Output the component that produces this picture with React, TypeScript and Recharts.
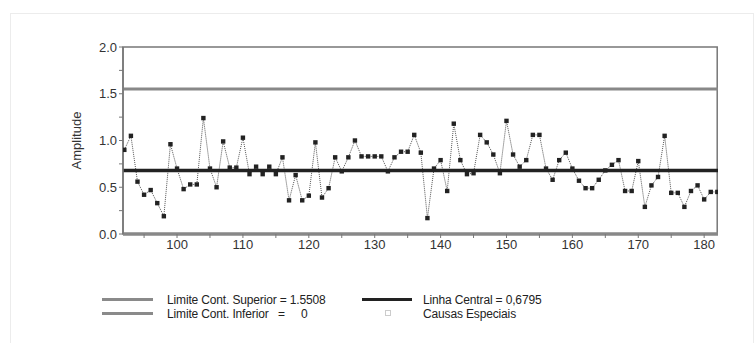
import React from 'react';
import { LineChart, Line, XAxis, YAxis, ReferenceLine, ReferenceArea } from 'recharts';

const samples: number[] = [];
for (let s = 92; s <= 182; s++) samples.push(s);

const amplitude: number[] = [
  0.90, 1.05, 0.56, 0.42, 0.47, 0.33, 0.19, 0.96, 0.70, 0.48, // 92-101
  0.53, 0.53, 1.24, 0.70, 0.50, 0.99, 0.71, 0.71, 1.03, 0.64, // 102-111
  0.72, 0.64, 0.72, 0.64, 0.82, 0.36, 0.63, 0.36, 0.41, 0.98, // 112-121
  0.39, 0.49, 0.82, 0.67, 0.82, 1.00, 0.83, 0.83, 0.83, 0.83, // 122-131
  0.67, 0.82, 0.88, 0.88, 1.06, 0.87, 0.17, 0.70, 0.79, 0.46, // 132-141
  1.18, 0.79, 0.64, 0.65, 1.06, 0.98, 0.85, 0.65, 1.21, 0.85, // 142-151
  0.72, 0.79, 1.06, 1.06, 0.70, 0.58, 0.79, 0.87, 0.70, 0.57, // 152-161
  0.49, 0.49, 0.58, 0.68, 0.74, 0.79, 0.46, 0.46, 0.78, 0.29, // 162-171
  0.52, 0.61, 1.05, 0.44, 0.44, 0.29, 0.46, 0.52, 0.37, 0.45, // 172-181
  0.45, // 182
];

const xTicks = [95, 100, 105, 110, 115, 120, 125, 130, 135, 140, 145, 150, 155, 160, 165, 170, 175, 180];
const yTicks = [0, 0.25, 0.5, 0.75, 1.0, 1.25, 1.5, 1.75, 2.0];
const xDomain: [number, number] = [91.8, 182.1];

const UCL = 1.5508;
const CL = 0.6795;
const LCL = 0;

const legendRows = [
  { label: 'Limite Cont. Superior = 1.5508', kind: 'ucl' },
  { label: 'Linha Central = 0,6795', kind: 'cl' },
  { label: 'Limite Cont. Inferior   =     0', kind: 'lcl' },
  { label: 'Causas Especiais', kind: 'special' },
];

const data = samples.map((s, i) => ({ x: s, y: amplitude[i] }));

const FONT = '"Liberation Sans", Arial, sans-serif';

const SquareDot = (props: any) => {
  const { cx, cy, index } = props;
  if (cx == null || cy == null) return <g key={`d-${index}`} />;
  return <rect key={`d-${index}`} x={cx - 2.2} y={cy - 2.2} width={4.4} height={4.4} fill="#222" />;
};

export default function App() {
  const legendStyle: React.CSSProperties = {
    position: 'absolute',
    fontFamily: FONT,
    fontSize: 12,
    color: '#222',
    whiteSpace: 'pre',
    lineHeight: '14px',
    letterSpacing: -0.15,
  };
  return (
    <div style={{ position: 'absolute', left: 0, top: 0, width: 756, height: 343, background: '#fff', overflow: 'hidden' }}>
      <div style={{ position: 'absolute', left: 10, top: 13, width: 742, height: 340, border: '1px solid #ececec' }} />
      <div style={{ position: 'absolute', left: 0, top: 0 }}>
        <LineChart width={756} height={343} data={data} margin={{ top: 47, right: 38, left: 0, bottom: 79 }}>
          <ReferenceArea
            x1={xDomain[0]}
            x2={xDomain[1] - 0.12}
            y1={0}
            y2={2}
            fill="none"
            fillOpacity={0}
            stroke="#777"
            strokeWidth={1.5}
            ifOverflow="visible"
          />
          <XAxis
            dataKey="x"
            type="number"
            domain={xDomain}
            allowDataOverflow
            ticks={xTicks}
            tickFormatter={(v: number) => (v % 10 === 0 ? String(v) : '')}
            tick={{ fontSize: 13, fill: '#333', fontFamily: FONT }}
            tickSize={4}
            stroke="#777"
            axisLine={{ stroke: '#888', strokeWidth: 3 }}
            tickLine={{ stroke: '#777' }}
            height={30}
          />
          <YAxis
            type="number"
            domain={[0, 2]}
            ticks={yTicks}
            tickFormatter={(v: number) => (Math.abs(v * 2 - Math.round(v * 2)) < 1e-6 ? v.toFixed(1) : '')}
            tick={{ fontSize: 13, fill: '#333', fontFamily: FONT }}
            tickSize={4}
            width={123}
            axisLine={{ stroke: '#777', strokeWidth: 1.5 }}
            tickLine={{ stroke: '#777' }}
            label={{ value: 'Amplitude', angle: -90, position: 'insideLeft', offset: 0, dx: 76, style: { fontSize: 13, fill: '#333', fontFamily: FONT, textAnchor: 'middle' } }}
          />
          <ReferenceLine y={UCL} stroke="#888" strokeWidth={3} />
          <ReferenceLine y={LCL} stroke="#888" strokeWidth={3} />
          <Line
            type="linear"
            dataKey="y"
            stroke="#555"
            strokeWidth={1}
            strokeDasharray="1 1"
            dot={SquareDot}
            activeDot={false}
            isAnimationActive={false}
          />
          <ReferenceLine y={CL} stroke="#222" strokeWidth={3.5} />
        </LineChart>
      </div>
      {/* Legend */}
      <div style={{ position: 'absolute', left: 102, top: 298, width: 51, height: 3, background: '#8a8a8a' }} />
      <div style={{ ...legendStyle, left: 167, top: 293 }}>{legendRows[0].label}</div>
      <div style={{ position: 'absolute', left: 362, top: 298, width: 50, height: 3, background: '#222' }} />
      <div style={{ ...legendStyle, left: 423, top: 293 }}>{legendRows[1].label}</div>
      <div style={{ position: 'absolute', left: 102, top: 312, width: 51, height: 3, background: '#8a8a8a' }} />
      <div style={{ ...legendStyle, left: 167, top: 307 }}>{legendRows[2].label}</div>
      <div style={{ position: 'absolute', left: 385, top: 310, width: 4, height: 4, border: '1px solid #ccc' }} />
      <div style={{ ...legendStyle, left: 423, top: 307 }}>{legendRows[3].label}</div>
    </div>
  );
}
